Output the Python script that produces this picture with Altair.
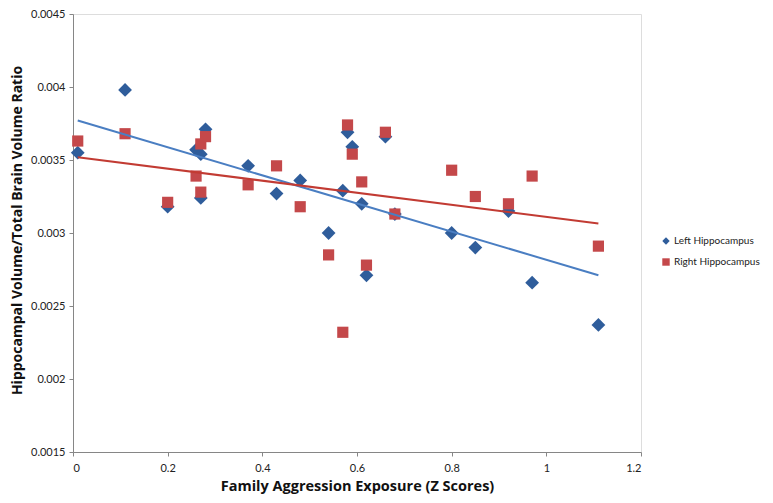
import altair as alt
import pandas as pd

# Family aggression exposure (Z scores), one per subject
x_vals = [0.01, 0.11, 0.20, 0.26, 0.27, 0.27, 0.28, 0.37, 0.43, 0.48, 0.54, 0.57,
          0.58, 0.59, 0.61, 0.62, 0.66, 0.68, 0.80, 0.85, 0.92, 0.97, 1.11]
left_vals = [0.00355, 0.00398, 0.00318, 0.00357, 0.00354, 0.00324, 0.00371, 0.00346,
             0.00327, 0.00336, 0.00300, 0.00329, 0.00369, 0.00359, 0.00320, 0.00271,
             0.00366, 0.00313, 0.00300, 0.00290, 0.00315, 0.00266, 0.00237]
right_vals = [0.00363, 0.00368, 0.00321, 0.00339, 0.00328, 0.00361, 0.00366, 0.00333,
              0.00346, 0.00318, 0.00285, 0.00232, 0.00374, 0.00354, 0.00335, 0.00278,
              0.00369, 0.00313, 0.00343, 0.00325, 0.00320, 0.00339, 0.00291]
series_names = ["Left Hippocampus", "Right Hippocampus"]
point_colors = ["#2F5D9B", "#C4484A"]
line_colors = ["#4A7EC2", "#C23B33"]
shapes = ["diamond", "square"]

df = pd.concat([
    pd.DataFrame({"x": x_vals, "value": left_vals, "series": series_names[0]}),
    pd.DataFrame({"x": x_vals, "value": right_vals, "series": series_names[1]}),
], ignore_index=True)

FONT = "Lato"
TITLE_FONT = "Open Sans"
AXIS_GRAY = "#868686"

x_enc = alt.X("x:Q", scale=alt.Scale(domain=[0, 1.2], nice=False),
              axis=alt.Axis(title="Family Aggression Exposure (Z Scores)", values=[0, 0.2, 0.4, 0.6, 0.8, 1, 1.2],
                            format="~g", grid=False, domainColor=AXIS_GRAY, tickColor=AXIS_GRAY,
                            tickSize=4, labelFontSize=11, labelColor="#222222", labelFont=FONT,
                            labelPadding=6, titleFont=TITLE_FONT, titleFontSize=14.5, titleFontWeight="bold",
                            titleColor="#111111", titleY=34, titleBaseline="middle"))
y_enc = alt.Y("value:Q", scale=alt.Scale(domain=[0.0015, 0.0045], nice=False, zero=False),
              axis=alt.Axis(title="Hippocampal Volume/Total Brain Volume Ratio",
                            values=[0.0015, 0.002, 0.0025, 0.003, 0.0035, 0.004, 0.0045],
                            format="~g", grid=False, domainColor=AXIS_GRAY, tickColor=AXIS_GRAY,
                            tickSize=4, labelFontSize=11, labelColor="#222222", labelFont=FONT,
                            labelPadding=4, titleFont=TITLE_FONT, titleFontSize=14, titleFontWeight="bold",
                            titleColor="#111111", titleX=-56, titleY=216, titleBaseline="middle"))

color_enc = alt.Color("series:N", scale=alt.Scale(domain=series_names, range=point_colors),
                      legend=alt.Legend(title=None, orient="none", legendX=588, legendY=222,
                                        labelFont=FONT, labelFontSize=10, labelColor="#222222",
                                        symbolSize=55, rowPadding=11, labelOffset=3,
                                        symbolStrokeWidth=0))
shape_enc = alt.Shape("series:N", scale=alt.Scale(domain=series_names, range=shapes))

left_points = alt.Chart(df).transform_filter(
    alt.datum.series == series_names[0]
).mark_point(filled=True, opacity=1, size=190).encode(
    x=x_enc, y=y_enc, color=color_enc, shape=shape_enc,
)
right_points = alt.Chart(df).transform_filter(
    alt.datum.series == series_names[1]
).mark_point(filled=True, opacity=1, size=125).encode(
    x=x_enc, y=y_enc, color=color_enc, shape=shape_enc,
)

lines = alt.Chart(df).transform_regression(
    "x", "value", groupby=["series"]
).mark_line(strokeWidth=2).encode(
    x="x:Q",
    y="value:Q",
    stroke=alt.Stroke("series:N", scale=alt.Scale(domain=series_names, range=line_colors), legend=None),
)

chart = alt.layer(left_points, right_points, lines).properties(
    width=568, height=438,
    autosize=alt.AutoSizeParams(type="none"),
    padding={"left": 65, "top": 6, "right": 124, "bottom": 43},
).configure_view(stroke=None).configure(font=FONT)

chart.save("out.html", embed_options={"renderer": "svg", "actions": False})
